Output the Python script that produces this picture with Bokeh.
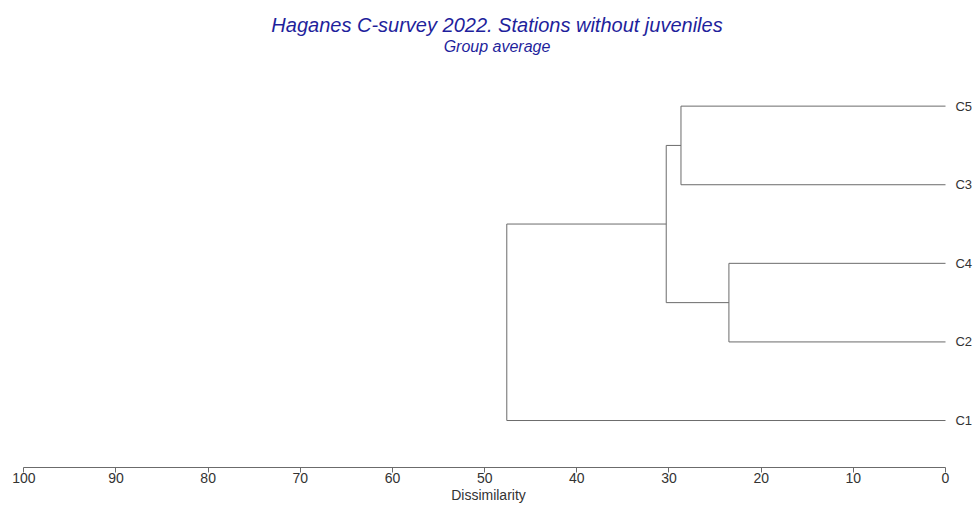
from bokeh.plotting import figure
from bokeh.models import Range1d, FixedTicker, Label, ColumnDataSource
from bokeh.core.properties import value
from bokeh.embed import file_html
from bokeh.resources import INLINE

# ---- data ----
leaf_order = ["C5", "C3", "C4", "C2", "C1"]          # top to bottom
# merges: (left child, right child, dissimilarity)
merge_left = ["C5", "C4", "C5C3", "C5C3C4C2"]
merge_right = ["C3", "C2", "C4C2", "C1"]
merge_name = ["C5C3", "C4C2", "C5C3C4C2", "ALL"]
merge_height = [28.7, 23.5, 30.3, 47.6]
tick_values = [0, 10, 20, 30, 40, 50, 60, 70, 80, 90, 100]

title_text = "Haganes C-survey 2022. Stations without juveniles"
subtitle_text = "Group average"
x_label = "Dissimilarity"

# ---- build dendrogram geometry from the linkage ----
n = len(leaf_order)
node_y = {name: float(n - i) for i, name in enumerate(leaf_order)}
node_h = {name: 0.0 for name in leaf_order}
hx0, hx1, hy = [], [], []
vx, vy0, vy1 = [], [], []
for a, b, nm, h in zip(merge_left, merge_right, merge_name, merge_height):
    for c in (a, b):
        hx0.append(node_h[c]); hx1.append(h); hy.append(node_y[c])
    vx.append(h); vy0.append(node_y[a]); vy1.append(node_y[b])
    node_y[nm] = (node_y[a] + node_y[b]) / 2.0
    node_h[nm] = h

line_color = "#6b6b6b"
title_color = "#1f1f9c"
FONT = "Liberation Sans"

p = figure(width=976, height=506, output_backend="svg", toolbar_location=None,
           x_range=Range1d(102.53, -3.363), y_range=Range1d(0.4024, 6.344),
           min_border_left=0, min_border_right=0, min_border_top=0, min_border_bottom=39)
p.yaxis.visible = False
p.grid.visible = False
p.outline_line_color = None
p.background_fill_color = "white"
p.border_fill_color = "white"

p.segment(x0=hx0, y0=hy, x1=hx1, y1=hy, line_color=line_color, line_width=1)
p.segment(x0=vx, y0=vy0, x1=vx, y1=vy1, line_color=line_color, line_width=1)

src = ColumnDataSource(dict(x=[-1.08] * n, y=[node_y[k] for k in leaf_order], t=leaf_order))
p.text(x="x", y="y", text="t", source=src, text_baseline="middle", text_align="left",
       text_font=value(FONT), text_font_size="13px", text_color="#333333")

ax = p.xaxis[0]
ax.ticker = FixedTicker(ticks=tick_values)
ax.bounds = (0, 100)
ax.minor_tick_line_color = None
ax.major_tick_in = 0
ax.major_tick_out = 5
ax.axis_line_color = line_color
ax.major_tick_line_color = line_color
ax.major_label_standoff = 0
ax.major_label_text_font = FONT
ax.major_label_text_font_size = "14px"
ax.major_label_text_color = "#333333"
ax.axis_label = x_label
ax.axis_label_standoff = 1
ax.axis_label_text_font = FONT
ax.axis_label_text_font_size = "14px"
ax.axis_label_text_font_style = "normal"
ax.axis_label_text_color = "#333333"

p.add_layout(Label(x=48.66, y=6.03, text=title_text, text_align="center",
                   text_baseline="alphabetic", text_font=FONT, text_font_size="20px",
                   text_font_style="italic", text_color=title_color))
p.add_layout(Label(x=48.66, y=5.753, text=subtitle_text, text_align="center",
                   text_baseline="alphabetic", text_font=FONT, text_font_size="16px",
                   text_font_style="italic", text_color=title_color))

open("out.html", "w").write(file_html(p, INLINE))
